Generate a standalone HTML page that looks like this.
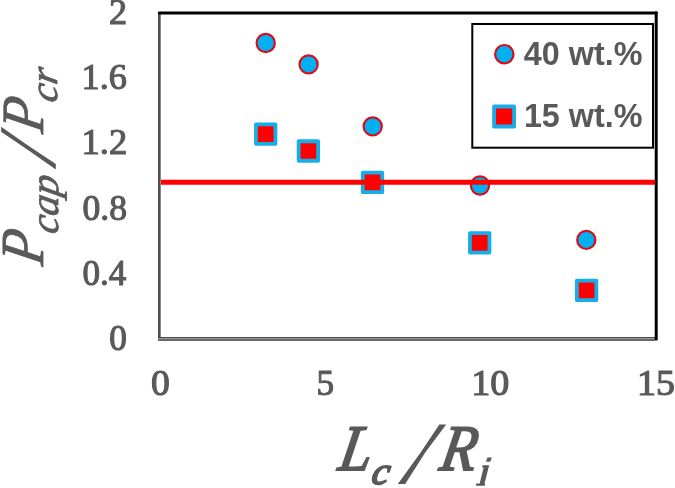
<!DOCTYPE html>
<html>
<head>
<meta charset="utf-8">
<style>
html,body{margin:0;padding:0;background:#fff;}
body{width:675px;height:488px;overflow:hidden;position:relative;}
svg{position:absolute;left:0;top:0;display:block;will-change:transform;}
.t{font-family:"Liberation Serif",serif;fill:#595959;}
.ti{font-family:"Liberation Serif",serif;font-style:italic;fill:#595959;}
.lg{font-family:"Liberation Sans",sans-serif;font-weight:bold;fill:#595959;}
</style>
</head>
<body>
<svg width="675" height="488" viewBox="0 0 675 488">
<rect x="0" y="0" width="675" height="488" fill="#fff"/>
<!-- plot frame -->
<rect x="158" y="12" width="2" height="329" fill="#4e4e4e"/>
<rect x="160" y="14" width="1" height="323" fill="#8a8a8a"/>
<rect x="158" y="337" width="497" height="1" fill="#4a4a4a"/>
<rect x="158" y="338" width="497" height="1" fill="#999"/>
<rect x="158" y="339" width="497" height="2" fill="#6a6a6a"/>
<rect x="158" y="11.5" width="499.7" height="3" rx="1" fill="#000"/>
<rect x="654.7" y="11.5" width="3" height="329" rx="1" fill="#000"/>
<!-- tick labels -->
<text class="t" transform="translate(108.92,24.35) scale(1.0269,1)" font-size="35.30" stroke="#595959" stroke-width="1.10">2</text>
<text class="t" transform="translate(81.58,88.72) scale(1.0279,1)" font-size="35.30" stroke="#595959" stroke-width="1.10">1.6</text>
<text class="t" transform="translate(81.55,153.72) scale(1.0383,1)" font-size="35.30" stroke="#595959" stroke-width="1.10">1.2</text>
<text class="t" transform="translate(82.52,219.52) scale(1.0097,1)" font-size="35.30" stroke="#595959" stroke-width="1.10">0.8</text>
<text class="t" transform="translate(82.55,284.52) scale(0.9933,1)" font-size="35.30" stroke="#595959" stroke-width="1.10">0.4</text>
<text class="t" transform="translate(109.34,350.10) scale(0.9982,1)" font-size="35.30" stroke="#595959" stroke-width="1.10">0</text>
<text class="t" transform="translate(151.05,395.10) scale(1.0657,1)" font-size="35.30" stroke="#595959" stroke-width="1.10">0</text>
<text class="t" transform="translate(316.44,395.10) scale(0.9986,1)" font-size="35.30" stroke="#595959" stroke-width="1.10">5</text>
<text class="t" transform="translate(471.33,395.10) scale(1.0778,1)" font-size="35.30" stroke="#595959" stroke-width="1.10">10</text>
<text class="t" transform="translate(637.03,395.10) scale(1.0778,1)" font-size="35.30" stroke="#595959" stroke-width="1.10">15</text>
<!-- 40 wt% -->
<g fill="#00B0F0" stroke="#D80E1C" stroke-width="2.2">
<circle cx="265.7" cy="43" r="9.1"/>
<circle cx="308.6" cy="64.4" r="9.1"/>
<circle cx="372.7" cy="126.4" r="9.1"/>
<circle cx="480" cy="185.5" r="9.1"/>
<circle cx="586.3" cy="239.9" r="9.1"/>
</g>
<!-- 15 wt% -->
<g fill="#FF0000" stroke="#16AEEA" stroke-width="3.8" stroke-linejoin="round">
<rect x="255.95" y="124.35" width="19.5" height="19.5"/>
<rect x="298.65" y="141.25" width="19.5" height="19.5"/>
<rect x="362.75" y="172.65" width="19.5" height="19.5"/>
<rect x="469.95" y="233.05" width="19.5" height="19.5"/>
<rect x="576.85" y="280.65" width="19.5" height="19.5"/>
</g>
<!-- red reference line -->
<rect x="161" y="179.75" width="494" height="5" fill="#FF0000"/>
<!-- legend -->
<rect x="472.3" y="24" width="180.7" height="123.7" fill="none" stroke="#000" stroke-width="2"/>
<circle cx="504.3" cy="54.2" r="9.2" fill="#00B0F0" stroke="#D80E1C" stroke-width="2.2"/>
<rect x="494.1" y="106.5" width="20" height="20" fill="#FF0000" stroke="#16AEEA" stroke-width="3.8" stroke-linejoin="round"/>
<text class="lg" transform="translate(523.82,64.97) scale(0.9937,1)" font-size="32.54">40 wt.%</text>
<text class="lg" transform="translate(523.90,127.47) scale(0.9860,1)" font-size="32.77">15 wt.%</text>
<!-- x axis title -->
<text class="ti" transform="translate(337.08,469.70) scale(0.8969,1) skewX(-11)" font-size="64.89" stroke="#595959" stroke-width="1.80">L</text>
<text class="ti" transform="translate(370.52,484.22) scale(1.0320,1) skewX(-10)" font-size="38.33" stroke="#595959" stroke-width="1.80">c</text>
<text class="ti" transform="translate(438.29,470.10) scale(0.8978,1) skewX(-11)" font-size="65.04" stroke="#595959" stroke-width="1.80">R</text>
<polygon points="439.3,424.5 446.2,424.5 425.4,452.3 405.2,484 397.8,484 420.8,452.3" fill="#595959"/>
<polygon points="482.6,465.2 489.2,465.2 488.6,467.4 484.5,483.4 485.2,483.4 484.7,485.8 475.8,485.8 476.3,483.4 479.7,483.4 483.6,467.4 482.0,467.4" fill="#595959"/>
<polygon points="487.5,457.4 491.8,457.4 490.2,461.7 485.9,461.7" fill="#595959"/>
<!-- y axis title -->
<g transform="translate(0,488) rotate(-90)">
<text class="ti" transform="translate(221.28,43.40) scale(0.8996,1) skewX(-11)" font-size="61.22" stroke="#595959" stroke-width="0.80">P</text>
<text class="ti" transform="translate(252.98,57.73) scale(1.0143,1) skewX(-10)" font-size="39.85" stroke="#595959" stroke-width="0.80">cap</text>
<text class="ti" transform="translate(353.87,43.30) scale(0.9178,1) skewX(-11)" font-size="59.85" stroke="#595959" stroke-width="0.80">P</text>
<text class="ti" transform="translate(384.56,56.61) scale(1.0503,1) skewX(-10)" font-size="38.75" stroke="#595959" stroke-width="0.80">cr</text>
</g>
<polygon points="1.1,126.8 1.1,131.8 28,149.9 55.8,169.6 55.8,164 28,145.5" fill="#595959"/>
</svg>
</body>
</html>
